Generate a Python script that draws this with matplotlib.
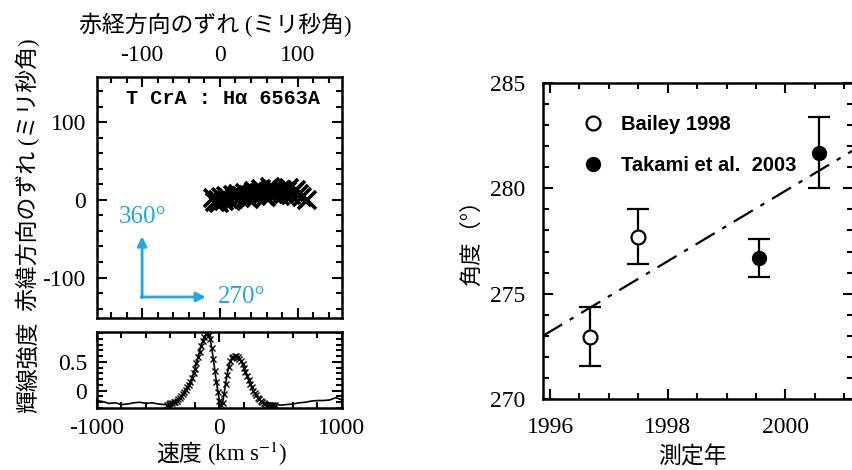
import numpy as np
import matplotlib
matplotlib.use("Agg")
import matplotlib.pyplot as plt
from matplotlib.lines import Line2D
from matplotlib.ticker import MultipleLocator, FixedLocator

plt.rcParams['mathtext.fontset'] = 'stix'
plt.rcParams['axes.unicode_minus'] = False

SERIF = ['Liberation Serif', 'Noto Sans CJK JP', 'DejaVu Sans']
JP = ['Noto Sans CJK JP', 'DejaVu Sans']
BLUE = '#1fa8e4'

# --- top-left: positional offsets of the H-alpha channels (mas) ---
ra_offset = [-9, -6, -3, -1, 2, 5, 8, 11, 14, 17, 20, 23, 26, 29, 32, 35, 38,
             41, 44, 47, 50, 53, 56, 59, 62, 65, 68, 71, 74, 77, 80, 83, 86,
             89, 92, 95, 98, 102, 106, 112]
dec_offset = [2, -3, 0, -4, 3, -1, 5, 1, -2, 6, 3, 8, 2, 5, 9, 4, 1, 7, 11, 5,
              9, 14, 8, 4, 10, 16, 7, 12, 9, 5, 13, 8, 11, 15, 6, 10, 12, 7,
              3, 0]

# --- bottom-left: line profile ---
vel_line = [-1000, -950, -900, -850, -800, -750, -700, -650, -600, -550,
            -500, -450, -425, -400, -375, -350, -325, -300, -275, -250, -225,
            -200, -175, -150, -125, -100, -75, -50, -25, 0, 25, 50, 75, 100,
            125, 150, 175, 200, 225, 250, 275, 300, 325, 350, 375, 400, 425,
            450, 500, 550, 600, 650, 700, 750, 800, 850, 900, 950, 1000]
flux_line = [-0.17, -0.19, -0.22, -0.21, -0.24, -0.23, -0.21, -0.20, -0.22,
             -0.21, -0.23, -0.24, -0.24, -0.22, -0.20, -0.17, -0.12, -0.06,
             0.02, 0.10, 0.22, 0.38, 0.58, 0.78, 0.93, 1.00, 0.90, 0.55, 0.15,
             -0.18, -0.22, 0.12, 0.42, 0.57, 0.60, 0.58, 0.52, 0.40, 0.26,
             0.12, 0.00, -0.08, -0.15, -0.20, -0.23, -0.25, -0.25, -0.24,
             -0.25, -0.24, -0.23, -0.21, -0.20, -0.18, -0.17, -0.17, -0.16,
             -0.12, -0.16]
vel_mark = [-425, -412, -400, -388, -375, -362, -350, -338, -325, -312, -300,
            -288, -275, -262, -250, -238, -225, -212, -200, -188, -175, -162,
            -150, -138, -125, -112, -100, -88, -75, -62, -50, -38, -25, -12,
            0, 12, 25, 38, 50, 62, 75, 88, 100, 112, 125, 138, 150, 162, 175,
            188, 200, 212, 225, 238, 250, 262, 275, 288, 300, 312, 325, 338,
            350, 362, 375, 388, 400, 412, 425, 438, 450]
flux_mark = [-0.24, -0.23, -0.22, -0.21, -0.20, -0.19, -0.17, -0.15, -0.12,
             -0.09, -0.06, -0.02, 0.02, 0.06, 0.10, 0.16, 0.22, 0.30, 0.38,
             0.48, 0.58, 0.68, 0.78, 0.86, 0.93, 0.98, 1.00, 0.97, 0.90, 0.75,
             0.55, 0.35, 0.15, -0.03, -0.18, -0.24, -0.22, -0.05, 0.12, 0.28,
             0.42, 0.51, 0.57, 0.59, 0.60, 0.60, 0.58, 0.55, 0.52, 0.46, 0.40,
             0.33, 0.26, 0.19, 0.12, 0.06, 0.00, -0.04, -0.08, -0.12, -0.15,
             -0.18, -0.20, -0.22, -0.23, -0.24, -0.25, -0.25, -0.25, -0.25,
             -0.24]

# --- right: position angle vs. epoch ---
bailey_year = [1996.68, 1997.5]
bailey_pa = [272.95, 277.7]
bailey_err = [1.4, 1.3]
takami_year = [1999.55, 2000.58]
takami_pa = [276.7, 281.7]
takami_err = [0.9, 1.7]
fit_year = [1995.88, 2001.15]
fit_pa = [273.0, 281.8]

fig = plt.figure(figsize=(8.53, 4.70), dpi=100)
ax1 = fig.add_axes([0.1137, 0.3234, 0.2872, 0.5128])
ax2 = fig.add_axes([0.1137, 0.1319, 0.2872, 0.1617])
ax3 = fig.add_axes([0.6366, 0.1511, 0.3634, 0.6723])


def style(ax, size=17, pad=8):
    for s in ax.spines.values():
        s.set_linewidth(1.8)
    ax.tick_params(which='both', direction='in', top=True, right=True,
                   width=1.5, pad=pad)
    ax.tick_params(which='major', length=7)
    ax.tick_params(which='minor', length=4)
    for lab in ax.get_xticklabels() + ax.get_yticklabels():
        lab.set_family(SERIF)
        lab.set_fontsize(size)


# top-left panel
ax1.plot(ra_offset, dec_offset, 'x', color='black', ms=13, mew=2.6)
ax1.set_xlim(-158, 157)
ax1.set_ylim(-152, 158)
ax1.xaxis.set_major_locator(FixedLocator([-100, 0, 100]))
ax1.xaxis.set_minor_locator(MultipleLocator(20))
ax1.yaxis.set_major_locator(FixedLocator([-100, 0, 100]))
ax1.yaxis.set_minor_locator(MultipleLocator(20))
ax1.tick_params(labelbottom=False, labeltop=True)
style(ax1, size=17, pad=8)
ax1.text(0.91, 0.91, 'T CrA : Hα 6563A', transform=ax1.transAxes,
         ha='right', va='center', fontsize=14.5, fontweight='bold',
         family=['Liberation Mono', 'DejaVu Sans Mono'])
ax1.annotate('', xy=(-100, -47), xytext=(-100, -126),
             arrowprops=dict(arrowstyle='-|>', color=BLUE, lw=2,
                             mutation_scale=14, shrinkA=0, shrinkB=0))
ax1.annotate('', xy=(-18, -125), xytext=(-101, -125),
             arrowprops=dict(arrowstyle='-|>', color=BLUE, lw=2,
                             mutation_scale=14, shrinkA=0, shrinkB=0))
ax1.text(-100, -22, '360°', color=BLUE, fontsize=18, family=SERIF,
         ha='center', va='center')
ax1.text(-2, -125, '270°', color=BLUE, fontsize=18, family=SERIF,
         ha='left', va='center')

# bottom-left panel
ax2.plot(vel_line, flux_line, '-', color='black', lw=1.2)
ax2.plot(vel_mark, flux_mark, 'x', color='black', ms=5, mew=1.0)
ax2.set_xlim(-1000, 1000)
ax2.set_ylim(-0.3, 1.02)
ax2.xaxis.set_major_locator(FixedLocator([-1000, 0, 1000]))
ax2.xaxis.set_minor_locator(MultipleLocator(200))
ax2.yaxis.set_major_locator(FixedLocator([0, 0.5]))
ax2.yaxis.set_minor_locator(MultipleLocator(0.1))
ax2.yaxis.set_major_formatter(plt.FuncFormatter(lambda v, p: '%g' % v))
style(ax2, size=17, pad=7)

# right panel
ax3.errorbar(bailey_year, bailey_pa, yerr=bailey_err, fmt='o', ms=10,
             mfc='white', mec='black', mew=1.6, ecolor='black', elinewidth=1.6,
             capsize=8, capthick=1.6)
ax3.errorbar(takami_year, takami_pa, yerr=takami_err, fmt='o', ms=10,
             mfc='black', mec='black', ecolor='black', elinewidth=1.6,
             capsize=8, capthick=1.6)
ax3.plot(fit_year, fit_pa, color='black', lw=1.6, ls=(0, (10, 4, 2, 4)))
ax3.set_xlim(1995.88, 2001.15)
ax3.set_ylim(270, 285)
ax3.xaxis.set_major_locator(FixedLocator([1996, 1998, 2000]))
ax3.xaxis.set_minor_locator(MultipleLocator(0.5))
ax3.yaxis.set_major_locator(MultipleLocator(5))
ax3.yaxis.set_minor_locator(MultipleLocator(1))
style(ax3, size=17, pad=13)
handles = [Line2D([], [], ls='none', marker='o', ms=10, mfc='white',
                  mec='black', mew=1.6),
           Line2D([], [], ls='none', marker='o', ms=10, mfc='black',
                  mec='black')]
ax3.legend(handles, ['Bailey 1998', 'Takami et al.  2003'],
           loc='upper left', bbox_to_anchor=(0.095, 0.925), frameon=False,
           prop=dict(family='Liberation Sans', weight='bold', size=14.5),
           labelspacing=1.1, handletextpad=0.8, handlelength=1.2,
           borderaxespad=0)

# axis labels
fig.text(215 / 853, 1 - 25 / 470, '赤経方向のずれ (ミリ秒角)', family=SERIF,
         fontsize=16.5, ha='center', va='center')
fig.text(28 / 853, 1 - 175 / 470, '赤緯方向のずれ (ミリ秒角)', family=SERIF,
         fontsize=16.5, ha='center', va='center', rotation=90)
fig.text(28 / 853, 1 - 367 / 470, '輝線強度', family=JP,
         fontsize=16.5, ha='center', va='center', rotation=90)
fig.text(202 / 853, 1 - 454 / 470, '速度', family=JP,
         fontsize=16.5, ha='right', va='center')
fig.text(207 / 853, 1 - 454 / 470, '(km s$^{-1}$)', family=SERIF,
         fontsize=16.5, ha='left', va='center')
fig.text(472 / 853, 1 - 237 / 470, '角度（°）', family=JP,
         fontsize=16, ha='center', va='center', rotation=90)
fig.text(692 / 853, 1 - 457 / 470, '測定年', family=JP,
         fontsize=16.5, ha='center', va='center')

plt.savefig('out.png', dpi=100)
